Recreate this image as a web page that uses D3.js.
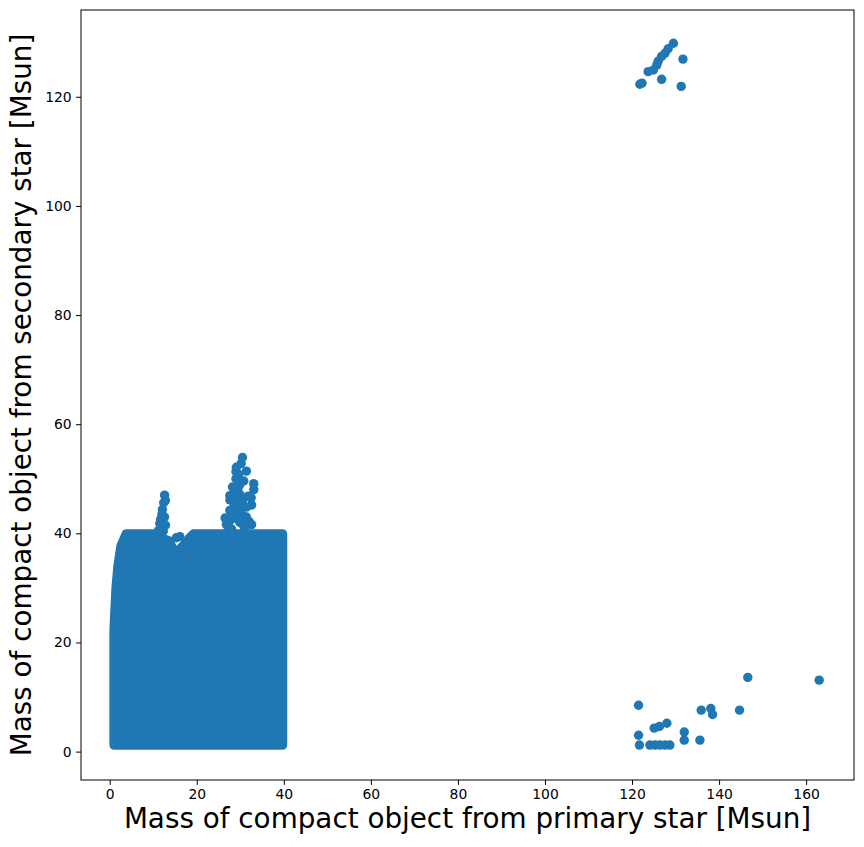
<!DOCTYPE html>
<html>
<head>
<meta charset="utf-8">
<script src="https://cdn.jsdelivr.net/npm/d3@7.9.0/dist/d3.min.js"></script>
<style>
  html, body { margin: 0; padding: 0; background: #fff; }
  svg { display: block; font-family: "DejaVu Sans", sans-serif; }
</style>
</head>
<body>
<svg id="chart" width="864" height="847"></svg>
<script>
// outline of the dense block of points (point centres), walked clockwise from bottom-left
const blockEdge = [
  [1.0, 1.2], [1.0, 22], [1.1, 24], [1.45, 29.8], [1.9, 34], [2.6, 37.7],
  [3.8, 39.9], [9.8, 39.9], [11.0, 39.4], [13.6, 38.6], [14.6, 37.0],
  [15.8, 36.8], [17.2, 38.0], [18.4, 39.2], [19.3, 39.9], [39.7, 39.9],
  [39.7, 1.2]
];

// points sticking out of the block
const spikePoints = [
  [12.6, 47.0], [12.4, 45.6], [12.8, 46.0], [12.1, 44.4], [12.0, 43.5], [12.6, 43.0],
  [11.7, 42.6], [11.5, 41.8], [12.8, 41.5], [11.9, 41.3], [12.3, 40.4], [11.2, 40.5],
  [15.3, 39.2], [16.1, 39.4], [19.2, 39.6],
  [30.5, 53.9], [30.2, 52.8], [29.1, 52.1], [31.4, 51.4], [29.0, 51.3], [29.6, 50.8],
  [29.0, 50.0], [30.8, 49.6], [33.1, 49.1], [29.8, 48.8], [28.2, 48.5], [33.1, 48.0],
  [29.5, 47.6], [28.4, 47.2], [30.0, 47.0], [27.6, 46.9], [31.8, 46.8], [32.5, 46.5],
  [27.6, 46.1], [30.5, 45.9], [29.2, 45.8], [32.6, 45.2], [28.6, 45.0], [31.4, 44.8],
  [30.2, 44.5], [27.6, 44.2], [29.5, 43.8], [28.3, 43.3], [30.6, 43.2], [31.4, 43.0],
  [28.8, 42.8], [26.5, 42.8], [27.6, 42.3], [32.0, 42.2], [29.9, 42.0], [26.8, 41.6],
  [30.6, 41.6], [32.6, 41.6], [27.2, 41.3], [28.0, 40.8], [31.0, 40.8]
];

const upperCluster = [
  [129.5, 129.8], [128.3, 128.8], [127.6, 128.0], [126.8, 127.4], [126.0, 126.5],
  [125.7, 125.8], [131.7, 126.9], [124.9, 124.9], [123.7, 124.6], [126.8, 123.2],
  [121.8, 122.3], [122.3, 122.5], [131.3, 121.9]
];

const lowerCluster = [
  [146.6, 13.6], [163.0, 13.1], [121.5, 8.5], [135.9, 7.6], [138.1, 7.9],
  [138.5, 6.8], [144.7, 7.6], [128.0, 5.2], [126.3, 4.6], [125.1, 4.3],
  [132.0, 3.6], [121.5, 3.0], [132.0, 2.1], [135.6, 2.1],
  [121.7, 1.2], [124.1, 1.2], [125.3, 1.2], [126.4, 1.2], [127.6, 1.2], [128.7, 1.2]
];

const xTicks = [0, 20, 40, 60, 80, 100, 120, 140, 160];
const yTicks = [0, 20, 40, 60, 80, 100, 120];

const color = '#1f77b4';
const r = 4.7;
const box = { left: 81, top: 10, right: 854, bottom: 780 };

const svg = d3.select('#chart');

const x = d3.scaleLinear().domain([-6.6, 171.0]).range([box.left, box.right]);
const y = d3.scaleLinear().domain([-5.2, 135.9]).range([box.bottom, box.top]);

// dense block: filled outline, stroked with the marker diameter so the edges look like dots
const line = d3.line().x(d => x(d[0])).y(d => y(d[1])).curve(d3.curveLinearClosed);
svg.append('path')
  .attr('d', line(blockEdge))
  .attr('fill', color)
  .attr('stroke', color)
  .attr('stroke-width', r * 2)
  .attr('stroke-linejoin', 'round');

svg.append('g')
  .selectAll('circle')
  .data([...spikePoints, ...upperCluster, ...lowerCluster])
  .join('circle')
  .attr('cx', d => x(d[0]))
  .attr('cy', d => y(d[1]))
  .attr('r', r)
  .attr('fill', color);

// axes
const xAxis = d3.axisBottom(x).tickValues(xTicks).tickSize(4.9).tickPadding(4.4);
const yAxis = d3.axisLeft(y).tickValues(yTicks).tickSize(4.9).tickPadding(4.4);

svg.append('g')
  .attr('transform', `translate(0,${box.bottom})`)
  .call(xAxis)
  .call(g => g.select('.domain').remove());

svg.append('g')
  .attr('transform', `translate(${box.left},0)`)
  .call(yAxis)
  .call(g => g.select('.domain').remove());

svg.selectAll('.tick text')
  .attr('font-size', 13.9)
  .attr('font-family', '"DejaVu Sans", sans-serif')
  .attr('fill', '#000');
svg.selectAll('.tick line').attr('stroke', '#000').attr('stroke-width', 1);

svg.append('rect')
  .attr('x', box.left)
  .attr('y', box.top)
  .attr('width', box.right - box.left)
  .attr('height', box.bottom - box.top)
  .attr('fill', 'none')
  .attr('stroke', '#000')
  .attr('stroke-width', 1);

svg.append('text')
  .attr('x', (box.left + box.right) / 2)
  .attr('y', 828)
  .attr('text-anchor', 'middle')
  .attr('font-size', 27.8)
  .text('Mass of compact object from primary star [Msun]');

svg.append('text')
  .attr('transform', `translate(31,${(box.top + box.bottom) / 2}) rotate(-90)`)
  .attr('text-anchor', 'middle')
  .attr('font-size', 27.8)
  .text('Mass of compact object from secondary star [Msun]');
</script>
</body>
</html>
